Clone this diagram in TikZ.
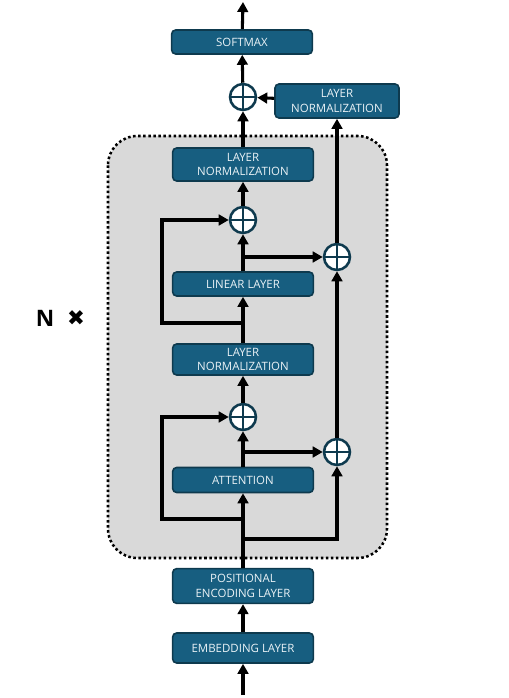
\documentclass[tikz,border=0pt]{standalone}
\usepackage{fontspec}
\setmainfont{Open Sans}
\newfontfamily\symfont{DejaVu Sans}
\usetikzlibrary{arrows.meta}
\definecolor{boxfill}{HTML}{175E80}
\definecolor{boxline}{HTML}{0E3A4E}
\definecolor{boxtext}{HTML}{EAF2F6}
\definecolor{panel}{HTML}{D9D9D9}
\begin{document}
\begin{tikzpicture}[x=0.75pt,y=-0.75pt,
  blk/.style={draw=boxline,fill=boxfill,line width=1.2pt,rounded corners=3pt,
    text=boxtext,font=\fontsize{8.6}{11}\selectfont,align=center,
    minimum width=105.5pt,inner sep=0pt},
  addop/.style={circle,draw=boxline,fill=white,line width=1.9pt,minimum size=19.5pt,inner sep=0pt,
    path picture={\draw[boxline,line width=1.7pt]
      (path picture bounding box.north) -- (path picture bounding box.south)
      (path picture bounding box.west) -- (path picture bounding box.east);}},
  conn/.style={line width=2.3pt,-{Triangle[length=7.5pt,width=8pt]}},
  seg/.style={line width=2.3pt}
]
\useasboundingbox (0,0) rectangle (508,698);
% panel
\draw[fill=panel,line width=1.9pt,dash pattern=on 1.9pt off 1.9pt,rounded corners=22pt]
  (108,136) rectangle (387,558);
\node[font=\fontsize{17}{17}\selectfont\bfseries] (nlab) at (45,318) {N};
\node[font=\symfont\fontsize{16}{16}\selectfont] (xlab) at (76,318.5) {✖};
% blocks
\node[blk,minimum height=18pt] (soft) at (242,42) {SOFTMAX};
\node[blk,minimum width=93pt,minimum height=25.5pt] (lnr) at (337,101) {LAYER\\NORMALIZATION};
\node[blk,minimum height=24.75pt] (ln1) at (243,164.5) {LAYER\\NORMALIZATION};
\node[blk,minimum height=18pt] (lin) at (243,284) {LINEAR LAYER};
\node[blk,minimum height=23.25pt] (ln2) at (243,359.5) {LAYER\\NORMALIZATION};
\node[blk,minimum height=18.75pt] (att) at (243,480) {ATTENTION};
\node[blk,minimum height=26pt] (pos) at (243,586) {POSITIONAL\\ENCODING LAYER};
\node[blk,minimum height=22.5pt] (emb) at (243,648) {EMBEDDING LAYER};
% adders
\node[addop] (p0) at (243,97) {};
\node[addop] (p1) at (243,220) {};
\node[addop] (pr1) at (337,257) {};
\node[addop] (p2) at (243,417) {};
\node[addop] (pr2) at (337,452) {};
% coordinates
\coordinate (in) at (243,695);
\coordinate (out) at (243,2);
\coordinate (b1) at (243,519);
\coordinate (b2) at (243,539);
\coordinate (b3) at (243,452);
\coordinate (b4) at (243,323);
\coordinate (b5) at (243,257);
% connectors
\draw[conn] (in) -- (emb);
\draw[conn] (emb) -- (pos);
\draw[conn] (pos) -- (att);
\draw[conn] (b1) -- (162,519) -- (162,417) -- (p2);
\draw[conn] (b2) -- (337,539) -- (pr2);
\draw[conn] (att) -- (p2);
\draw[conn] (b3) -- (pr2);
\draw[conn] (p2) -- (ln2);
\draw[conn] (ln2) -- (lin);
\draw[conn] (b4) -- (162,323) -- (162,220) -- (p1);
\draw[conn] (lin) -- (p1);
\draw[conn] (b5) -- (pr1);
\draw[conn] (p1) -- (ln1);
\draw[conn] (pr2) -- (pr1);
\draw[conn] (pr1) -- (lnr);
\draw[conn] (ln1) -- (p0);
\draw[conn] (lnr) -- (p0);
\draw[conn] (p0) -- (soft);
\draw[conn] (soft) -- (out);
\end{tikzpicture}
\end{document}
